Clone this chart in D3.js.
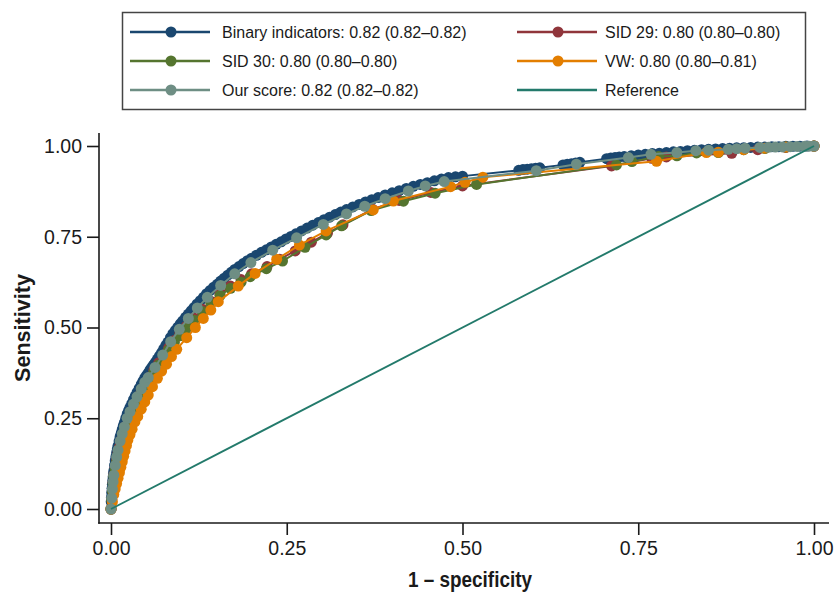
<!DOCTYPE html>
<html><head><meta charset="utf-8">
<script src="https://cdn.jsdelivr.net/npm/d3@7"></script>
<style>
body{margin:0;background:#fff}
svg{display:block}
text{font-family:"Liberation Sans",Arial,Helvetica,sans-serif;fill:#1a1a1a}
</style>
</head><body>
<svg id="chart" width="837" height="594"></svg>
<script>
// ---------- data ----------
const xTicks = [0, 0.25, 0.5, 0.75, 1];
const yTicks = [0, 0.25, 0.5, 0.75, 1];
const xTickLabels = ["0.00", "0.25", "0.50", "0.75", "1.00"];
const yTickLabels = ["0.00", "0.25", "0.50", "0.75", "1.00"];

const seriesNames = [
  "Binary indicators: 0.82 (0.82\u20130.82)",
  "SID 29: 0.80 (0.80\u20130.80)",
  "SID 30: 0.80 (0.80\u20130.80)",
  "VW: 0.80 (0.80\u20130.81)",
  "Our score: 0.82 (0.82\u20130.82)",
  "Reference"
];
const seriesColors = ["#1a476f", "#90353b", "#55752f", "#e37e00", "#6e8e84", "#237a6b"];

const binaryFpr = [0,0.0003,0.0006,0.001,0.0015,0.002,0.0025,0.003,0.0035,0.004,0.005,0.006,0.007,0.008,0.009,0.010,0.0115,0.013,0.0145,0.016,0.0175,0.019,0.021,0.023,0.025,0.027,0.0295,0.032,0.0345,0.037,0.040,0.043,0.0455,0.048,0.0505,0.053,0.0555,0.058,0.0605,0.063,0.066,0.069,0.072,0.075,0.078,0.081,0.0845,0.088,0.0915,0.095,0.0985,0.102,0.106,0.110,0.114,0.118,0.1225,0.127,0.1315,0.136,0.141,0.146,0.151,0.156,0.161,0.166,0.171,0.176,0.182,0.188,0.194,0.200,0.207,0.214,0.221,0.228,0.235,0.242,0.249,0.256,0.263,0.271,0.279,0.287,0.295,0.303,0.311,0.319,0.327,0.335,0.344,0.353,0.362,0.371,0.380,0.390,0.400,0.410,0.420,0.430,0.440,0.450,0.460,0.470,0.480,0.490,0.500,0.580,0.586,0.592,0.598,0.604,0.610,0.643,0.649,0.655,0.661,0.667,0.705,0.711,0.717,0.723,0.730,0.740,0.750,0.760,0.770,0.780,0.790,0.800,0.810,0.820,0.830,0.840,0.850,0.860,0.870,0.880,0.890,0.900,0.910,0.920,0.930,0.940,0.950,0.960,0.970,0.980,0.990,1];
const binaryTpr = [0,0.020,0.032,0.045,0.057,0.068,0.078,0.088,0.097,0.105,0.120,0.133,0.144,0.155,0.165,0.174,0.187,0.199,0.209,0.219,0.229,0.238,0.250,0.262,0.271,0.280,0.290,0.301,0.311,0.321,0.332,0.343,0.352,0.361,0.368,0.375,0.383,0.390,0.397,0.404,0.413,0.422,0.431,0.441,0.451,0.460,0.472,0.483,0.492,0.501,0.510,0.518,0.528,0.537,0.546,0.555,0.565,0.574,0.583,0.593,0.602,0.611,0.619,0.628,0.636,0.644,0.652,0.660,0.668,0.676,0.684,0.691,0.699,0.707,0.714,0.722,0.729,0.736,0.744,0.751,0.758,0.766,0.774,0.782,0.789,0.797,0.804,0.811,0.818,0.825,0.832,0.839,0.846,0.852,0.858,0.865,0.871,0.877,0.883,0.889,0.894,0.899,0.904,0.909,0.913,0.915,0.917,0.933,0.935,0.936,0.937,0.939,0.940,0.948,0.950,0.951,0.953,0.955,0.965,0.967,0.968,0.970,0.971,0.973,0.975,0.977,0.979,0.980,0.982,0.984,0.985,0.987,0.988,0.990,0.991,0.992,0.993,0.994,0.995,0.995,0.996,0.997,0.997,0.998,0.998,0.999,0.999,0.9995,0.9998,1];

const sid29Fpr = [0,0.001,0.002,0.003,0.004,0.006,0.008,0.010,0.012,0.015,0.018,0.021,0.025,0.029,0.033,0.038,0.043,0.049,0.055,0.061,0.068,0.075,0.082,0.090,0.098,0.107,0.118,0.130,0.142,0.155,0.170,0.185,0.200,0.222,0.240,0.262,0.285,0.308,0.330,0.372,0.410,0.455,0.500,0.712,0.769,0.790,0.883,0.920,0.960,1];
const sid29Tpr = [0,0.027,0.052,0.074,0.094,0.115,0.135,0.155,0.170,0.190,0.210,0.228,0.248,0.266,0.284,0.304,0.323,0.343,0.363,0.382,0.403,0.424,0.444,0.464,0.483,0.503,0.526,0.550,0.572,0.593,0.614,0.632,0.648,0.668,0.688,0.711,0.735,0.760,0.783,0.826,0.850,0.872,0.890,0.945,0.966,0.970,0.980,0.990,0.996,1];

const sid30Fpr = [0,0.001,0.002,0.003,0.004,0.006,0.008,0.010,0.012,0.015,0.018,0.021,0.025,0.029,0.033,0.038,0.043,0.049,0.055,0.061,0.068,0.075,0.082,0.090,0.098,0.107,0.118,0.130,0.142,0.155,0.170,0.185,0.198,0.221,0.244,0.276,0.306,0.328,0.370,0.416,0.461,0.520,0.719,0.741,0.779,0.805,0.833,0.864,0.900,0.930,0.960,1];
const sid30Tpr = [0,0.025,0.050,0.070,0.090,0.110,0.130,0.150,0.165,0.185,0.205,0.222,0.242,0.260,0.278,0.298,0.317,0.337,0.357,0.376,0.397,0.418,0.438,0.458,0.477,0.497,0.520,0.544,0.566,0.588,0.608,0.625,0.640,0.662,0.683,0.721,0.755,0.780,0.822,0.848,0.870,0.894,0.948,0.957,0.971,0.973,0.981,0.982,0.990,0.993,0.997,1];

const vwFpr = [0,0.002,0.004,0.006,0.008,0.010,0.012,0.014,0.016,0.018,0.020,0.022,0.024,0.027,0.030,0.034,0.038,0.043,0.048,0.053,0.059,0.066,0.072,0.079,0.086,0.0935,0.1077,0.120,0.1313,0.142,0.1526,0.181,0.205,0.2357,0.268,0.306,0.373,0.4017,0.483,0.5036,0.529,0.776,0.847,0.864,0.900,0.930,0.960,1];
const vwTpr = [0,0.020,0.040,0.055,0.070,0.085,0.100,0.115,0.130,0.145,0.160,0.175,0.190,0.205,0.220,0.240,0.255,0.275,0.295,0.314,0.337,0.360,0.380,0.399,0.420,0.440,0.472,0.500,0.525,0.548,0.571,0.614,0.649,0.688,0.727,0.766,0.824,0.8485,0.888,0.900,0.914,0.958,0.982,0.983,0.990,0.994,0.997,1];

const ourFpr = [0,0.001,0.002,0.003,0.004,0.006,0.008,0.010,0.013,0.016,0.019,0.023,0.027,0.032,0.037,0.043,0.048,0.053,0.0626,0.0735,0.0849,0.0972,0.110,0.1228,0.137,0.156,0.176,0.199,0.230,0.264,0.302,0.335,0.361,0.390,0.423,0.447,0.474,0.605,0.662,0.736,0.768,0.805,0.832,0.850,0.878,0.890,0.902,0.923,0.935,0.945,0.955,0.966,0.976,0.987,0.993,1];
const ourTpr = [0,0.030,0.055,0.075,0.093,0.120,0.143,0.162,0.187,0.207,0.226,0.250,0.268,0.289,0.309,0.331,0.349,0.362,0.390,0.424,0.461,0.495,0.525,0.554,0.583,0.616,0.648,0.679,0.713,0.747,0.784,0.813,0.834,0.855,0.876,0.890,0.902,0.932,0.950,0.968,0.977,0.982,0.987,0.9885,0.991,0.9925,0.994,0.996,0.9965,0.997,0.9975,0.998,0.9988,0.999,0.9996,1];

const refFpr = [0, 1];
const refTpr = [0, 1];

// ---------- build ----------
const svg = d3.select("#chart");
const x = d3.scaleLinear().domain([0, 1]).range([111, 814]);
const y = d3.scaleLinear().domain([0, 1]).range([509, 146]);

const zip = (a, b) => a.map((v, i) => [v, b[i]]);
const series = [
  {name: seriesNames[0], color: seriesColors[0], pts: zip(binaryFpr, binaryTpr), markers: true},
  {name: seriesNames[1], color: seriesColors[1], pts: zip(sid29Fpr, sid29Tpr), markers: true},
  {name: seriesNames[2], color: seriesColors[2], pts: zip(sid30Fpr, sid30Tpr), markers: true},
  {name: seriesNames[3], color: seriesColors[3], pts: zip(vwFpr, vwTpr), markers: true},
  {name: seriesNames[4], color: seriesColors[4], pts: zip(ourFpr, ourTpr), markers: true},
  {name: seriesNames[5], color: seriesColors[5], pts: zip(refFpr, refTpr), markers: false}
];

const axisColor = "#1a1a1a";

// axes
const yAxis = d3.axisLeft(y).tickValues(yTicks).tickFormat((d, i) => yTickLabels[i]).tickSize(12).tickPadding(5);
const gy = svg.append("g").attr("transform", "translate(99,0)").call(yAxis);
const xAxis = d3.axisBottom(x).tickValues(xTicks).tickFormat((d, i) => xTickLabels[i]).tickSize(12).tickPadding(6);
const gx = svg.append("g").attr("transform", "translate(0,523)").call(xAxis);
[gx, gy].forEach(g => {
  g.select(".domain").remove();
  g.selectAll(".tick line").attr("stroke", axisColor).attr("stroke-width", 1.6);
  g.selectAll(".tick text").attr("font-size", 19.5).attr("fill", axisColor)
    .style("font-family", '"Liberation Sans",Arial,sans-serif');
});
svg.append("line").attr("x1", 99).attr("x2", 99).attr("y1", 133).attr("y2", 523.8)
  .attr("stroke", axisColor).attr("stroke-width", 1.6);
svg.append("line").attr("x1", 98.2).attr("x2", 829).attr("y1", 523).attr("y2", 523)
  .attr("stroke", axisColor).attr("stroke-width", 1.6);

// titles
svg.append("text").attr("x", 470).attr("y", 587).attr("text-anchor", "middle")
  .attr("font-size", 22).attr("font-weight", "bold")
  .attr("textLength", 124).attr("lengthAdjust", "spacingAndGlyphs")
  .text("1 \u2013 specificity");
svg.append("text").attr("transform", "translate(30,328) rotate(-90)").attr("text-anchor", "middle")
  .attr("font-size", 22).attr("font-weight", "bold")
  .attr("textLength", 108).attr("lengthAdjust", "spacingAndGlyphs")
  .text("Sensitivity");

// plot series
const line = d3.line().x(d => x(d[0])).y(d => y(d[1]));
const plot = svg.append("g");
series.forEach(s => {
  const g = plot.append("g");
  g.append("path").attr("d", line(s.pts)).attr("fill", "none")
    .attr("stroke", s.color).attr("stroke-width", s.markers ? 2 : 1.9);
  if (s.markers) {
    g.selectAll("circle").data(s.pts).join("circle")
      .attr("cx", d => x(d[0])).attr("cy", d => y(d[1])).attr("r", 5.5)
      .attr("fill", s.color);
  }
});

// legend
const leg = svg.append("g");
leg.append("rect").attr("x", 122.5).attr("y", 12.5).attr("width", 683).attr("height", 97)
  .attr("fill", "none").attr("stroke", "#444").attr("stroke-width", 1.5);
const colX = [130, 517];
const textOff = [92, 88];
const rowY = [32, 61, 90];
series.forEach((s, i) => {
  const c = i % 2;
  const cx = colX[c], cy = rowY[Math.floor(i / 2)];
  leg.append("line").attr("x1", cx).attr("x2", cx + 80).attr("y1", cy).attr("y2", cy)
    .attr("stroke", s.color).attr("stroke-width", 2.4);
  if (s.markers) leg.append("circle").attr("cx", cx + 41).attr("cy", cy).attr("r", 5.5).attr("fill", s.color);
  leg.append("text").attr("x", cx + textOff[c]).attr("y", cy + 5.8).attr("font-size", 16).text(s.name);
});
</script>
</body></html>
